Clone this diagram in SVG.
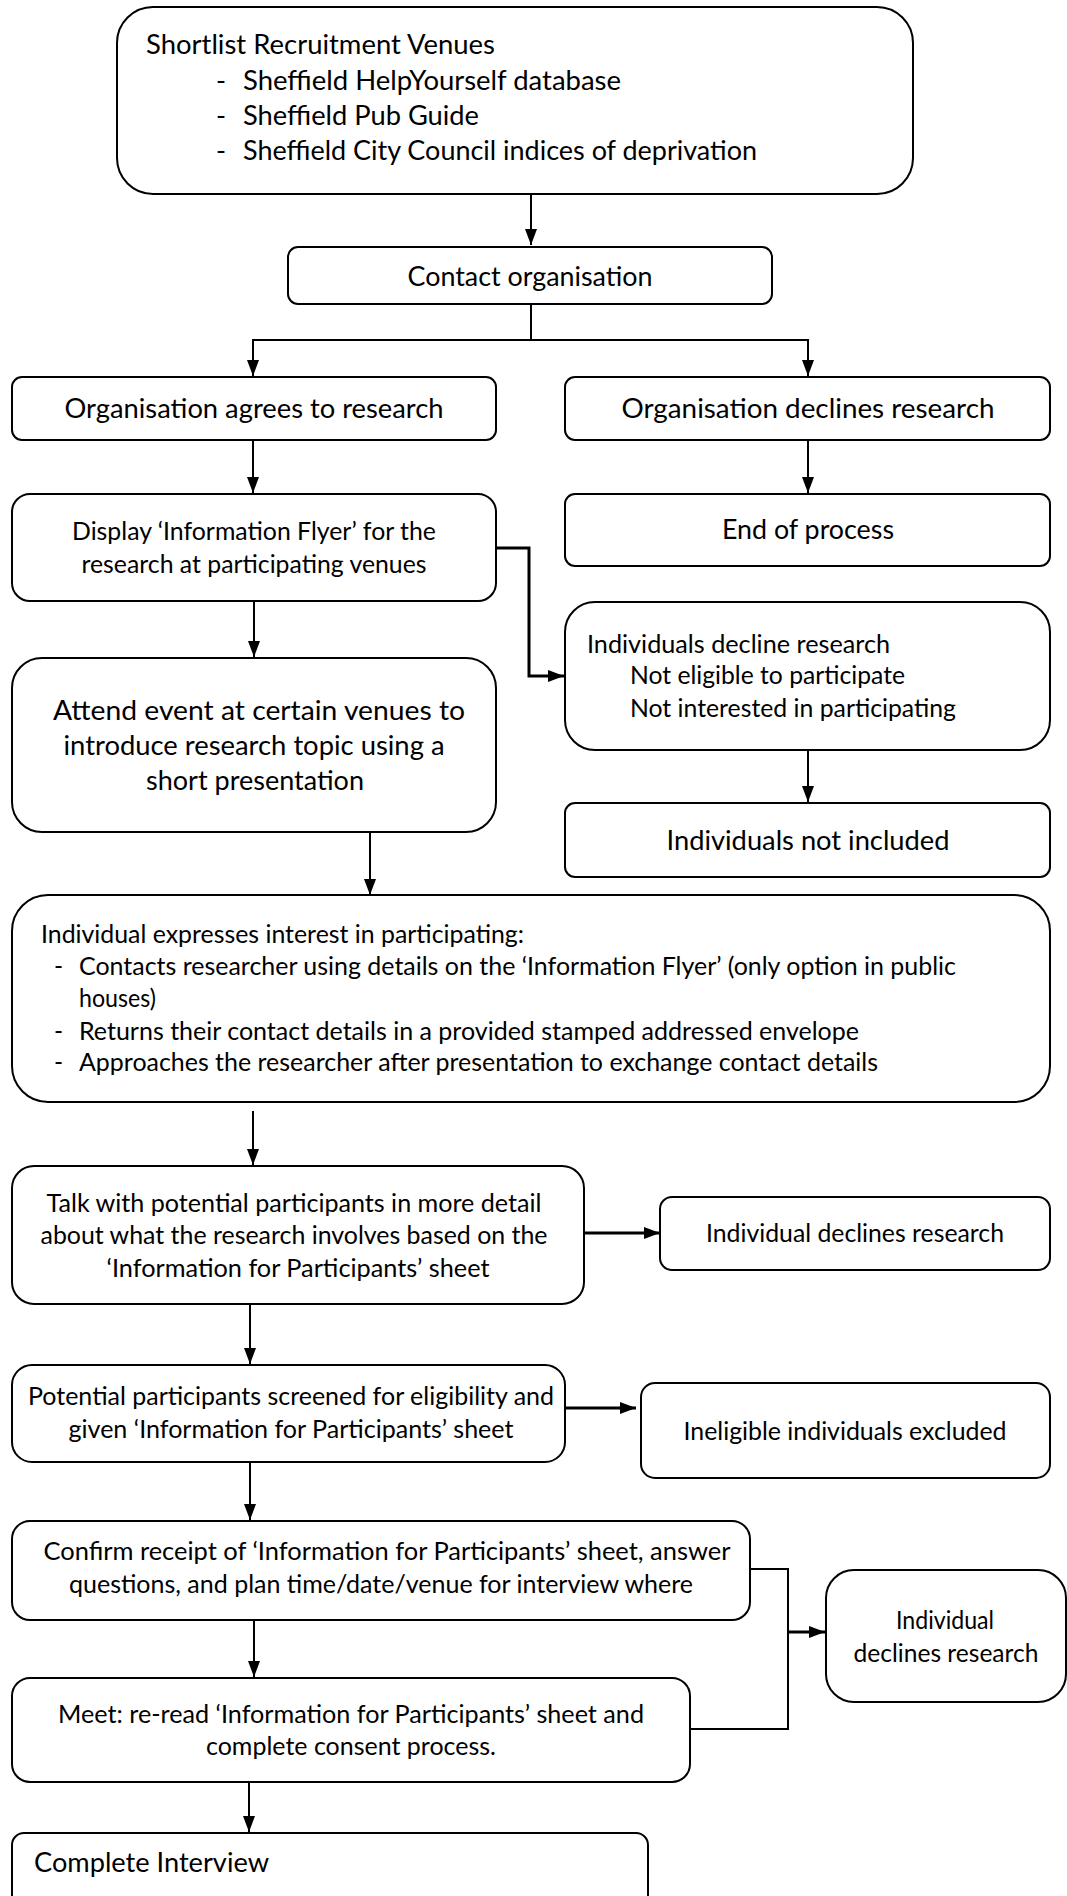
<svg xmlns="http://www.w3.org/2000/svg" width="1067" height="1896" viewBox="0 0 1067 1896">
  <defs>
    <marker id="arrow" markerUnits="userSpaceOnUse" markerWidth="16" markerHeight="12" refX="16" refY="6" orient="auto">
      <path d="M0,0 L16,6 L0,12 z" fill="#000"/>
    </marker>
    <style>
      .box { fill: #fff; stroke: #000; stroke-width: 2; }
      .t { font-family: Lato, "Open Sans", sans-serif; font-size: 24.5px; fill: #000; }
      .lg { font-size: 27px; }
      .c { text-anchor: middle; }
      .link { fill: none; stroke: #000; stroke-width: 2; }
      .thick { stroke-width: 3; }
    </style>
  </defs>
  <rect width="1067" height="1896" fill="#fff"/>

  <!-- connectors -->
  <g id="connectors">
    <path class="link" d="M531,194 V245" marker-end="url(#arrow)"/>
    <path class="link" d="M531,304 V340"/>
    <path class="link" d="M532,340 H253 V376" marker-end="url(#arrow)"/>
    <path class="link" d="M530,340 H808 V376" marker-end="url(#arrow)"/>
    <path class="link" d="M253,440 V493" marker-end="url(#arrow)"/>
    <path class="link" d="M808,440 V493" marker-end="url(#arrow)"/>
    <path class="link thick" d="M496,548 H529 V676 H564" marker-end="url(#arrow)"/>
    <path class="link" d="M254,601 V657" marker-end="url(#arrow)"/>
    <path class="link" d="M808,750 V802" marker-end="url(#arrow)"/>
    <path class="link" d="M370,832 V895" marker-end="url(#arrow)"/>
    <path class="link" d="M253,1111 V1165" marker-end="url(#arrow)"/>
    <path class="link thick" d="M584,1233 H660" marker-end="url(#arrow)"/>
    <path class="link" d="M250,1304 V1364" marker-end="url(#arrow)"/>
    <path class="link thick" d="M565,1408 H636" marker-end="url(#arrow)"/>
    <path class="link" d="M250,1462 V1520" marker-end="url(#arrow)"/>
    <path class="link" d="M254,1620 V1677" marker-end="url(#arrow)"/>
    <path class="link" d="M750,1569 H788 V1729 H690"/>
    <path class="link thick" d="M788,1632 H825" marker-end="url(#arrow)"/>
    <path class="link" d="M249,1782 V1832" marker-end="url(#arrow)"/>
  </g>

  <!-- nodes -->
  <g id="shortlist">
    <rect class="box" x="117" y="7" width="796" height="187" rx="36"/>
    <text class="t lg" x="146" y="54" textLength="349" lengthAdjust="spacingAndGlyphs">Shortlist Recruitment Venues</text>
    <text class="t lg" x="216" y="90">-</text>
    <text class="t lg" x="243" y="90" textLength="378" lengthAdjust="spacingAndGlyphs">Sheffield HelpYourself database</text>
    <text class="t lg" x="216" y="125">-</text>
    <text class="t lg" x="243" y="125" textLength="236" lengthAdjust="spacingAndGlyphs">Sheffield Pub Guide</text>
    <text class="t lg" x="216" y="160">-</text>
    <text class="t lg" x="243" y="160" textLength="514" lengthAdjust="spacingAndGlyphs">Sheffield City Council indices of deprivation</text>
  </g>

  <g id="contact">
    <rect class="box" x="288" y="247" width="484" height="57" rx="10"/>
    <text class="t lg c" x="530" y="286" textLength="245" lengthAdjust="spacingAndGlyphs">Contact organisation</text>
  </g>

  <g id="org-agrees">
    <rect class="box" x="12" y="377" width="484" height="63" rx="10"/>
    <text class="t lg c" x="254" y="418" textLength="379" lengthAdjust="spacingAndGlyphs">Organisation agrees to research</text>
  </g>

  <g id="org-declines">
    <rect class="box" x="565" y="377" width="485" height="63" rx="10"/>
    <text class="t lg c" x="808" y="418" textLength="373" lengthAdjust="spacingAndGlyphs">Organisation declines research</text>
  </g>

  <g id="display-flyer">
    <rect class="box" x="12" y="494" width="484" height="107" rx="18"/>
    <text class="t c" x="254" y="540" textLength="364" lengthAdjust="spacingAndGlyphs">Display ‘Information Flyer’ for the</text>
    <text class="t c" x="254" y="573" textLength="345" lengthAdjust="spacingAndGlyphs">research at participating venues</text>
  </g>

  <g id="end-of-process">
    <rect class="box" x="565" y="494" width="485" height="72" rx="10"/>
    <text class="t lg c" x="808" y="539" textLength="172" lengthAdjust="spacingAndGlyphs">End of process</text>
  </g>

  <g id="individuals-decline">
    <rect class="box" x="565" y="602" width="485" height="148" rx="30"/>
    <text class="t" x="587" y="653" textLength="303" lengthAdjust="spacingAndGlyphs">Individuals decline research</text>
    <text class="t" x="630" y="684" textLength="275" lengthAdjust="spacingAndGlyphs">Not eligible to participate</text>
    <text class="t" x="630" y="717" textLength="326" lengthAdjust="spacingAndGlyphs">Not interested in participating</text>
  </g>

  <g id="not-included">
    <rect class="box" x="565" y="803" width="485" height="74" rx="10"/>
    <text class="t lg c" x="808" y="850" textLength="283" lengthAdjust="spacingAndGlyphs">Individuals not included</text>
  </g>

  <g id="attend-event">
    <rect class="box" x="12" y="658" width="484" height="174" rx="30"/>
    <text class="t lg c" x="259" y="720" textLength="412" lengthAdjust="spacingAndGlyphs">Attend event at certain venues to</text>
    <text class="t lg c" x="254" y="755" textLength="381" lengthAdjust="spacingAndGlyphs">introduce research topic using a</text>
    <text class="t lg c" x="255" y="790" textLength="218" lengthAdjust="spacingAndGlyphs">short presentation</text>
  </g>

  <g id="expresses-interest">
    <rect class="box" x="12" y="895" width="1038" height="207" rx="36"/>
    <text class="t" x="41" y="943" textLength="483" lengthAdjust="spacingAndGlyphs">Individual expresses interest in participating:</text>
    <text class="t" x="54" y="975">-</text>
    <text class="t" x="79" y="975" textLength="877" lengthAdjust="spacingAndGlyphs">Contacts researcher using details on the ‘Information Flyer’ (only option in public</text>
    <text class="t" x="79" y="1007" textLength="77" lengthAdjust="spacingAndGlyphs">houses)</text>
    <text class="t" x="54" y="1040">-</text>
    <text class="t" x="79" y="1040" textLength="780" lengthAdjust="spacingAndGlyphs">Returns their contact details in a provided stamped addressed envelope</text>
    <text class="t" x="54" y="1071">-</text>
    <text class="t" x="79" y="1071" textLength="799" lengthAdjust="spacingAndGlyphs">Approaches the researcher after presentation to exchange contact details</text>
  </g>

  <g id="talk-detail">
    <rect class="box" x="12" y="1166" width="572" height="138" rx="22"/>
    <text class="t c" x="294" y="1212" textLength="495" lengthAdjust="spacingAndGlyphs">Talk with potential participants in more detail</text>
    <text class="t c" x="294" y="1244" textLength="507" lengthAdjust="spacingAndGlyphs">about what the research involves based on the</text>
    <text class="t c" x="298" y="1277" textLength="383" lengthAdjust="spacingAndGlyphs">‘Information for Participants’ sheet</text>
  </g>

  <g id="declines-after-talk">
    <rect class="box" x="660" y="1197" width="390" height="73" rx="12"/>
    <text class="t c" x="855" y="1242" textLength="298" lengthAdjust="spacingAndGlyphs">Individual declines research</text>
  </g>

  <g id="screened">
    <rect class="box" x="12" y="1365" width="553" height="97" rx="20"/>
    <text class="t c" x="291" y="1405" textLength="526" lengthAdjust="spacingAndGlyphs">Potential participants screened for eligibility and</text>
    <text class="t c" x="291" y="1438" textLength="445" lengthAdjust="spacingAndGlyphs">given ‘Information for Participants’ sheet</text>
  </g>

  <g id="ineligible">
    <rect class="box" x="641" y="1383" width="409" height="95" rx="14"/>
    <text class="t c" x="845" y="1440" textLength="323" lengthAdjust="spacingAndGlyphs">Ineligible individuals excluded</text>
  </g>

  <g id="confirm-receipt">
    <rect class="box" x="12" y="1521" width="738" height="99" rx="18"/>
    <text class="t c" x="387" y="1560" textLength="687" lengthAdjust="spacingAndGlyphs">Confirm receipt of ‘Information for Participants’ sheet, answer</text>
    <text class="t c" x="381" y="1593" textLength="624" lengthAdjust="spacingAndGlyphs">questions, and plan time/date/venue for interview where</text>
  </g>

  <g id="declines-before-interview">
    <rect class="box" x="826" y="1570" width="240" height="132" rx="28"/>
    <text class="t c" x="945" y="1629" textLength="98" lengthAdjust="spacingAndGlyphs">Individual</text>
    <text class="t c" x="946" y="1662" textLength="185" lengthAdjust="spacingAndGlyphs">declines research</text>
  </g>

  <g id="meet-consent">
    <rect class="box" x="12" y="1678" width="678" height="104" rx="18"/>
    <text class="t c" x="351" y="1723" textLength="586" lengthAdjust="spacingAndGlyphs">Meet: re-read ‘Information for Participants’ sheet and</text>
    <text class="t c" x="351" y="1755" textLength="290" lengthAdjust="spacingAndGlyphs">complete consent process.</text>
  </g>

  <g id="complete-interview">
    <rect class="box" x="12" y="1833" width="636" height="80" rx="12"/>
    <text class="t lg" x="34" y="1872" textLength="235" lengthAdjust="spacingAndGlyphs">Complete Interview</text>
  </g>
</svg>
